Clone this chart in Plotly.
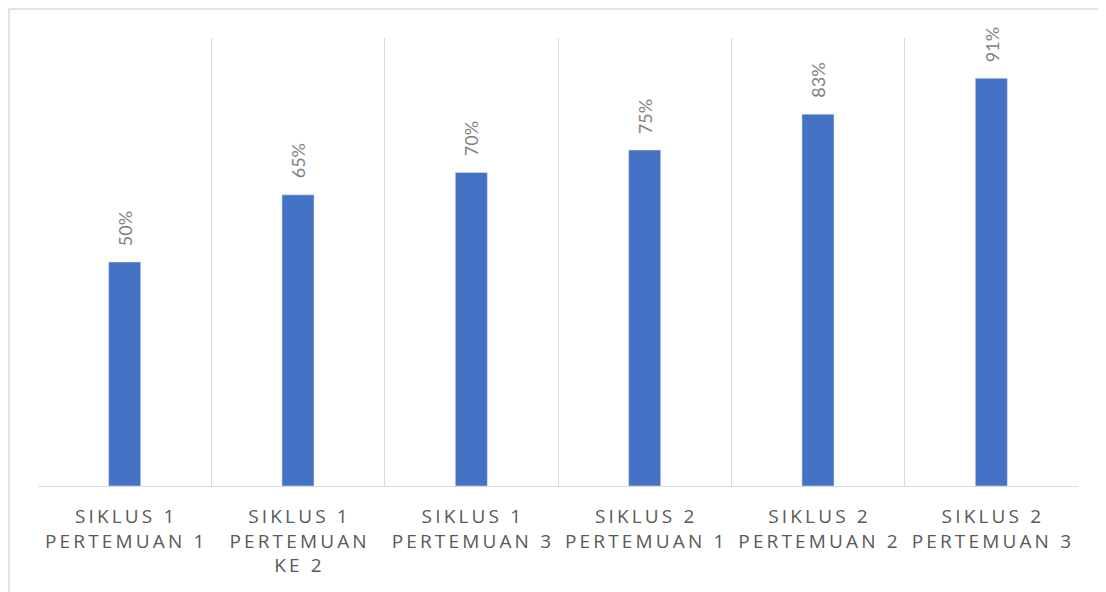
import plotly.graph_objects as go

categories = ["SIKLUS 1<br>PERTEMUAN 1", "SIKLUS 1<br>PERTEMUAN<br>KE 2", "SIKLUS 1<br>PERTEMUAN 3",
              "SIKLUS 2<br>PERTEMUAN 1", "SIKLUS 2<br>PERTEMUAN 2", "SIKLUS 2<br>PERTEMUAN 3"]
values = [0.50, 0.65, 0.70, 0.75, 0.83, 0.91]
value_labels = ["50%", "65%", "70%", "75%", "83%", "91%"]

TS = "\u2009"

def spaced(label):
    lines = label.split("<br>")
    out = []
    for ln in lines:
        words = ln.split(" ")
        out.append((TS + " " + TS).join(TS.join(list(w)) for w in words))
    return "<br>".join(out)

tick_text = [spaced(c) for c in categories]
xs = list(range(len(categories)))

fig = go.Figure()
fig.add_trace(go.Bar(x=xs, y=values, marker_color="#4472C4", width=0.185,
                     hoverinfo="skip"))

for x, v, t in zip(xs, values, value_labels):
    fig.add_annotation(x=x, y=v, text=t, textangle=-90, showarrow=False,
                       yanchor="bottom", yshift=14,
                       font=dict(family="Lato, Open Sans, sans-serif", size=18, color="#7f7f7f"))

# page body has an 8px default margin
W, H = 1098, 584
L, R, T, B = 30, 28, 30, 106
pw, ph = W - L - R, H - T - B
fig.add_shape(type="rect", xref="paper", yref="paper",
              x0=(1 - L) / pw, x1=1.2, y0=-0.5, y1=1 + (T - 1) / ph,
              line=dict(color="#d9d9d9", width=1.5), layer="below")

fig.update_layout(
    width=W, height=H, margin=dict(l=L, r=R, t=T, b=B),
    paper_bgcolor="white", plot_bgcolor="white", showlegend=False,
    xaxis=dict(tickmode="array", tickvals=xs, ticktext=tick_text, range=[-0.5, 5.5],
               type="category", tickson="boundaries", showgrid=True, gridcolor="#d9d9d9",
               gridwidth=1.3, showline=True, linecolor="#d9d9d9", linewidth=1.3, ticks="",
               tickfont=dict(family="Open Sans, sans-serif", size=19, color="#595959"),
               ticklabelstandoff=13, zeroline=False),
    yaxis=dict(range=[0, 1], visible=False, showgrid=False, zeroline=False),
)

fig.write_html("out.html")
